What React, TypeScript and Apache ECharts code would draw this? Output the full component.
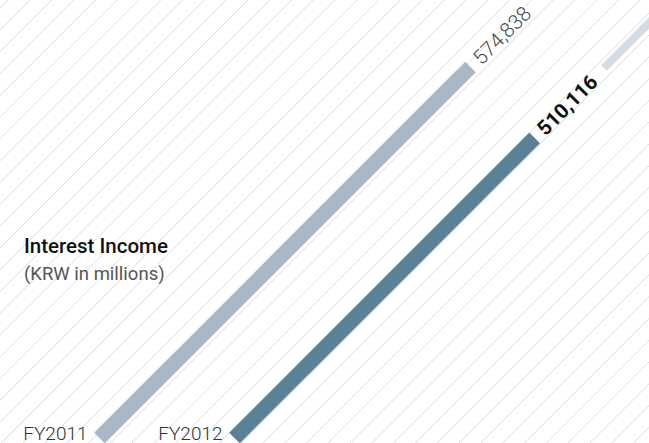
import React, { useEffect, useRef } from "react";
import * as echarts from "echarts";

const categories = ["FY2011", "FY2012"];
const values = [574838, 510116];
const axisMin = 236000;
const axisMax = 636000;

const barColors = ["#a9b8c6", "#5b8199"];
const labelColors = ["#4a4a4a", "#111111"];
const labelWeights = [300, 700];

function stripes() {
  const out: any[] = [];
  for (let k = -2; k < 55; k++) {
    const c = 30 + 21.8 * k;
    out.push({
      type: "line",
      silent: true,
      z: -10,
      shape: { x1: c, y1: 0, x2: c - 460, y2: 460 },
      style: { stroke: "#d6dce3", lineWidth: 1 },
    });
  }
  return out;
}

export default function App() {
  const ref = useRef<HTMLDivElement>(null);
  useEffect(() => {
    if (!ref.current) return;
    const chart = echarts.init(ref.current, null, { renderer: "svg" });
    const font = "Roboto, 'Noto Sans', sans-serif";
    chart.setOption({
      animation: false,
      backgroundColor: "#ffffff",
      grid: { left: 32, width: 270, top: 0, bottom: 5 },
      xAxis: { type: "category", data: categories, show: false, boundaryGap: true },
      yAxis: { type: "value", min: axisMin, max: axisMax, show: false },
      graphic: [
        ...stripes(),
        {
          type: "line",
          silent: true,
          z: -5,
          shape: { x1: 604, y1: 68, x2: 660, y2: 12 },
          style: { stroke: "#d3dce4", lineWidth: 8 },
        },
        {
          type: "text",
          x: 24,
          y: 246,
          z: 10,
          style: {
            text: "Interest Income",
            fill: "#111",
            font: `500 20.5px ${font}`,
            verticalAlign: "middle",
            align: "left",
          },
        },
        {
          type: "text",
          x: 24,
          y: 274,
          z: 10,
          style: {
            text: "(KRW in millions)",
            fill: "#555",
            font: `400 18.5px ${font}`,
            verticalAlign: "middle",
            align: "left",
          },
        },
      ],
      series: [
        {
          type: "custom",
          z: 5,
          data: values.map((v, i) => [i, v]),
          renderItem: (params: any, api: any) => {
            const i = api.value(0);
            const v = api.value(1);
            const base = api.coord([i, axisMin]);
            const end = api.coord([i, v]);
            const len = base[1] - end[1];
            const ex = base[0] + len;
            const ey = end[1];
            return {
              type: "group",
              children: [
                {
                  type: "line",
                  shape: { x1: base[0], y1: base[1], x2: ex, y2: ey },
                  style: { stroke: barColors[i], lineWidth: 15, lineCap: "butt" },
                },
                {
                  type: "text",
                  x: ex + 6,
                  y: ey - 6,
                  rotation: Math.PI / 4,
                  style: {
                    text: v.toLocaleString("en-US"),
                    fill: labelColors[i],
                    font: `${labelWeights[i]} 20.5px ${font}`,
                    align: "left",
                    verticalAlign: "middle",
                  },
                },
                {
                  type: "text",
                  x: base[0] - 12,
                  y: base[1] - 5,
                  style: {
                    text: categories[i],
                    fill: "#333",
                    font: `300 19px ${font}`,
                    align: "right",
                    verticalAlign: "middle",
                  },
                },
              ],
            };
          },
        },
      ],
    });
    return () => chart.dispose();
  }, []);
  return (
    <div
      ref={ref}
      style={{ position: "fixed", left: 0, top: 0, width: 649, height: 443 }}
    />
  );
}
